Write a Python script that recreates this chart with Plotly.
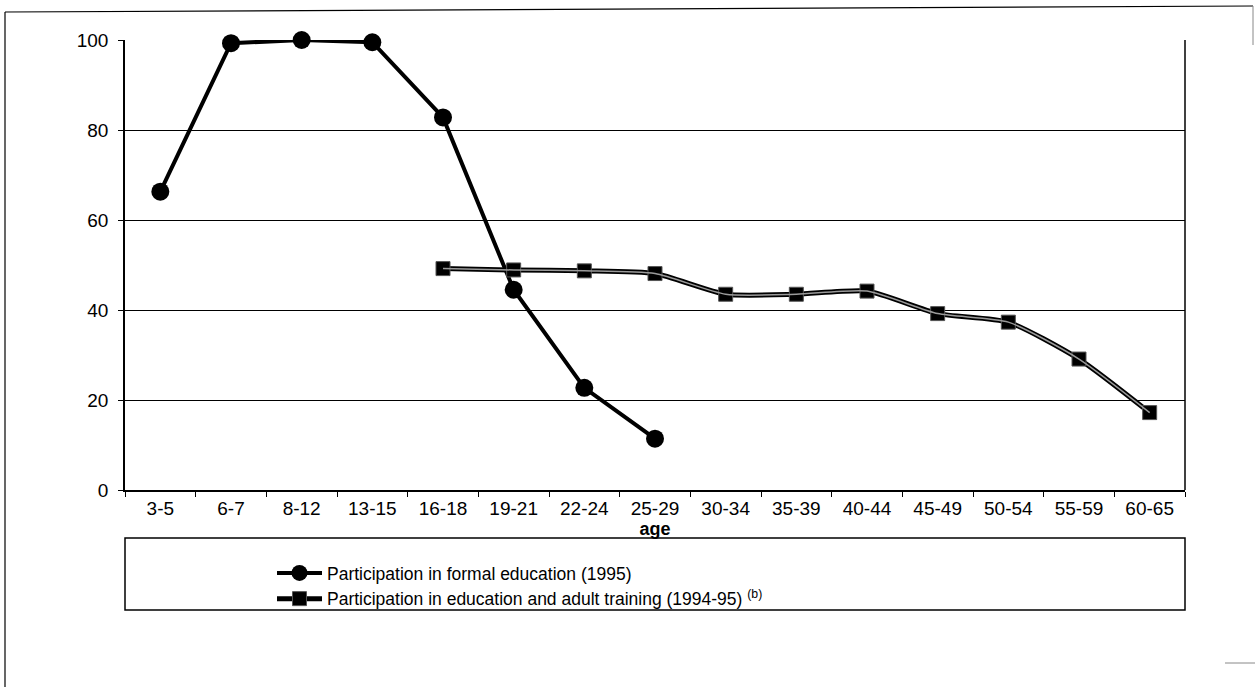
import plotly.graph_objects as go

ages = ["3-5", "6-7", "8-12", "13-15", "16-18", "19-21", "22-24", "25-29",
        "30-34", "35-39", "40-44", "45-49", "50-54", "55-59", "60-65"]
formal_ages = ["3-5", "6-7", "8-12", "13-15", "16-18", "19-21", "22-24", "25-29"]
formal_vals = [66.3, 99.3, 100.0, 99.5, 82.8, 44.5, 22.7, 11.4]
adult_ages = ["16-18", "19-21", "22-24", "25-29", "30-34", "35-39", "40-44",
              "45-49", "50-54", "55-59", "60-65"]
adult_vals = [49.2, 48.9, 48.7, 48.1, 43.5, 43.5, 44.2, 39.2, 37.3, 29.1, 17.2]
y_ticks = [0, 20, 40, 60, 80, 100]

FONT = "Liberation Sans, Arial, sans-serif"

# plot area in pixels
L, R, T, B = 125, 1185, 40, 490
W, H = 1255, 687


def px(x):
    return (x - L) / (R - L)


def py(y):
    return (B - y) / (B - T)


fig = go.Figure()

fig.add_trace(go.Scatter(
    x=formal_ages, y=formal_vals, mode="lines+markers",
    name="Participation in formal education (1995)",
    line=dict(color="black", width=4),
    marker=dict(symbol="circle", size=18, color="black"),
    cliponaxis=False,
))
fig.add_trace(go.Scatter(
    x=adult_ages, y=adult_vals, mode="lines+markers",
    name="Participation in education and adult training (1994-95) <sup>(b)</sup>",
    line=dict(color="black", width=5, shape="spline", smoothing=0.6),
    marker=dict(symbol="square", size=14, color="black",
                line=dict(color="#555555", width=1)),
    cliponaxis=False,
))
fig.add_trace(go.Scatter(
    x=adult_ages, y=adult_vals, mode="lines",
    showlegend=False, hoverinfo="skip",
    line=dict(color="#9a9a9a", width=1.5, shape="spline", smoothing=0.6),
    cliponaxis=False,
))

shapes = [
    # legend box
    dict(type="rect", xref="paper", yref="paper",
         x0=0, x1=1, y0=py(610), y1=py(538),
         line=dict(color="black", width=1.5), fillcolor="rgba(0,0,0,0)"),
    # right border of plot area
    dict(type="line", xref="paper", yref="paper",
         x0=1, x1=1, y0=0, y1=1, line=dict(color="black", width=1.5)),
    # outer frame
    dict(type="line", xref="paper", yref="paper",
         x0=px(5), x1=px(1253), y0=py(12), y1=py(6), line=dict(color="black", width=1.2)),
    dict(type="line", xref="paper", yref="paper",
         x0=px(5), x1=px(5), y0=py(12), y1=py(687), line=dict(color="black", width=1.2)),
    dict(type="line", xref="paper", yref="paper",
         x0=px(1253), x1=px(1253), y0=py(6), y1=py(45), line=dict(color="#888888", width=1)),
    dict(type="line", xref="paper", yref="paper",
         x0=px(1225), x1=px(1255), y0=py(663), y1=py(663), line=dict(color="#888888", width=1)),
]

fig.update_layout(
    width=W, height=H,
    margin=dict(l=L, r=W - R, t=T, b=H - B),
    paper_bgcolor="white", plot_bgcolor="white",
    font=dict(family=FONT, color="black", size=17),
    shapes=shapes,
    showlegend=True,
    legend=dict(x=px(272), y=py(555), xanchor="left", yanchor="top",
                bgcolor="rgba(0,0,0,0)", borderwidth=0,
                font=dict(family=FONT, size=17.5, color="black"),
                tracegroupgap=0, itemwidth=45),
    xaxis=dict(
        categoryorder="array", categoryarray=ages,
        range=[-0.5, len(ages) - 0.5],
        showline=True, linecolor="black", linewidth=1.5,
        ticks="outside", tickson="boundaries", ticklen=5, tickcolor="black",
        showgrid=False, zeroline=False,
        tickfont=dict(family=FONT, size=19, color="black"),
        title=dict(text="<b>age</b>", font=dict(family=FONT, size=18, color="black"),
                   standoff=0),
    ),
    yaxis=dict(
        range=[0, 100], tickvals=y_ticks,
        showline=True, linecolor="black", linewidth=1.5,
        ticks="outside", ticklen=5, tickcolor="black",
        ticklabelstandoff=6,
        showgrid=True, gridcolor="black", gridwidth=1.2,
        zeroline=False,
        tickfont=dict(family=FONT, size=19, color="black"),
    ),
)

fig.add_annotation(text="g", xref="paper", yref="paper", x=px(6), y=py(-6),
                   xanchor="left", yanchor="bottom", showarrow=False,
                   font=dict(family=FONT, size=22, color="black"))

fig.write_html("out.html", config={"displayModeBar": False},
               post_script="document.body.style.margin='0';")
